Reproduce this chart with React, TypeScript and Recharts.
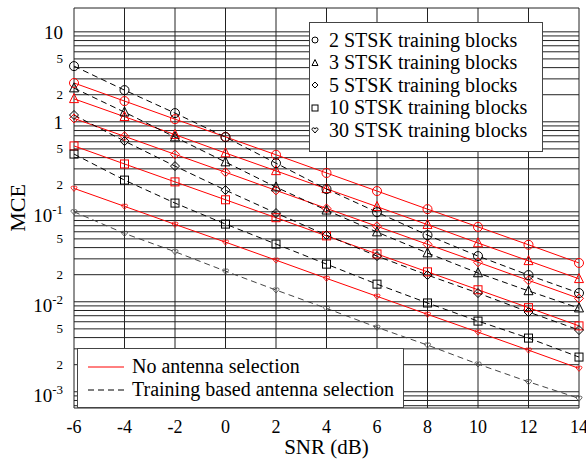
import { LineChart, Line, XAxis, YAxis, CartesianGrid } from 'recharts';

const FONT = '"Liberation Serif", "Times New Roman", serif';

// SNR in dB
const snr = [-6, -4, -2, 0, 2, 4, 6, 8, 10, 12, 14];

// No antenna selection (red, solid)
const noSel2 = [2.7, 1.7, 1.07, 0.68, 0.43, 0.27, 0.17, 0.107, 0.068, 0.043, 0.027];
const noSel3 = [1.8, 1.14, 0.72, 0.45, 0.285, 0.18, 0.114, 0.072, 0.045, 0.0285, 0.018];
const noSel5 = [1.09, 0.69, 0.435, 0.275, 0.173, 0.109, 0.069, 0.0435, 0.0275, 0.0173, 0.0109];
const noSel10 = [0.54, 0.34, 0.215, 0.136, 0.086, 0.054, 0.034, 0.0215, 0.0136, 0.0086, 0.0054];
const noSel30 = [0.182, 0.115, 0.0725, 0.046, 0.029, 0.0182, 0.0115, 0.00725, 0.0046, 0.0029, 0.00182];

// Training based antenna selection (black, dashed)
const train2 = [4.16, 2.25, 1.25, 0.676, 0.347, 0.179, 0.099, 0.055, 0.0322, 0.0198, 0.0125];
const train3 = [2.37, 1.28, 0.676, 0.357, 0.188, 0.104, 0.0595, 0.0348, 0.0209, 0.0132, 0.0085];
const train5 = [1.19, 0.61, 0.322, 0.174, 0.0968, 0.0551, 0.0322, 0.0198, 0.0125, 0.0077, 0.00485];
const train10 = [0.438, 0.225, 0.125, 0.073, 0.0438, 0.0262, 0.0157, 0.0097, 0.0061, 0.00395, 0.00243];
const train30 = [0.1, 0.0575, 0.036, 0.0219, 0.0135, 0.00845, 0.0052, 0.0033, 0.00203, 0.00129, 0.000845];

const blockLabels = [
  '2 STSK training blocks',
  '3 STSK training blocks',
  '5 STSK training blocks',
  '10 STSK training blocks',
  '30 STSK training blocks',
];
const lineLabels = ['No antenna selection', 'Training based antenna selection'];

const xTicks = [-6, -4, -2, 0, 2, 4, 6, 8, 10, 12, 14];
const yTicks = [0.001, 0.002, 0.005, 0.01, 0.02, 0.05, 0.1, 0.2, 0.5, 1, 2, 5, 10];
const yDomain: [number, number] = [0.00066, 18.4];

const gridY: number[] = [yDomain[0], yDomain[1]];
[0.0001, 0.001, 0.01, 0.1, 1, 10].forEach((d) => {
  for (let k = 1; k < 10; k++) {
    const v = k * d;
    if (v > yDomain[0] && v < yDomain[1]) gridY.push(v);
  }
});

const rows = snr.map((s, i) => ({
  snr: s,
  r2: noSel2[i], r3: noSel3[i], r5: noSel5[i], r10: noSel10[i], r30: noSel30[i],
  t2: train2[i], t3: train3[i], t5: train5[i], t10: train10[i], t30: train30[i],
}));

type Shape = 'circle' | 'triangle' | 'diamond' | 'square' | 'heart';
const shapes: Shape[] = ['circle', 'triangle', 'diamond', 'square', 'heart'];
const shapeSize = [9, 9, 9, 8, 6];

function Marker({ cx, cy, shape, color, size, sw = 1 }: { cx: number; cy: number; shape: Shape; color: string; size: number; sw?: number }) {
  const h = size / 2;
  const common = { fill: 'none', stroke: color, strokeWidth: sw };
  if (shape === 'circle') return <circle cx={cx} cy={cy} r={h} {...common} />;
  if (shape === 'square') return <rect x={cx - h} y={cy - h} width={size} height={size} {...common} />;
  if (shape === 'triangle')
    return <polygon points={`${cx},${cy - size * 0.58} ${cx - h},${cy + size * 0.42} ${cx + h},${cy + size * 0.42}`} {...common} />;
  if (shape === 'diamond')
    return <polygon points={`${cx},${cy - h} ${cx + h},${cy} ${cx},${cy + h} ${cx - h},${cy}`} {...common} />;
  const r = size / 4;
  return (
    <path
      d={`M${cx},${cy + h} L${cx - h},${cy - r * 0.3} A${r},${r} 0 0 1 ${cx},${cy - r * 0.6} A${r},${r} 0 0 1 ${cx + h},${cy - r * 0.3} Z`}
      {...common}
    />
  );
}

const series = [
  ...['r2', 'r3', 'r5', 'r10', 'r30'].map((k, i) => ({ key: k, color: '#ff0000', dash: undefined as string | undefined, shape: shapes[i], size: shapeSize[i] })),
  ...['t2', 't3', 't5', 't10', 't30'].map((k, i) => ({ key: k, color: i === 4 ? '#444' : '#000', dash: '6 4', shape: shapes[i], size: shapeSize[i] })),
];

function XTick({ x, y, payload }: any) {
  return (
    <text x={x} y={y + 25} textAnchor="middle" fontFamily={FONT} fontSize={18} fill="#000">
      {payload.value}
    </text>
  );
}

function YTick({ x, y, payload }: any) {
  const v = payload.value as number;
  const e = Math.round(Math.log10(v));
  const isPow = Math.abs(Math.log10(v) - e) < 1e-6;
  if (!isPow) {
    const lead = Math.round(v / Math.pow(10, Math.floor(Math.log10(v))));
    return (
      <text x={x - 11} y={y} dy={4.5} textAnchor="end" fontFamily={FONT} fontSize={13} fill="#000">
        {lead}
      </text>
    );
  }
  if (e >= 0) {
    return (
      <text x={x - 11} y={y} dy={7} textAnchor="end" fontFamily={FONT} fontSize={19} fill="#000">
        {v}
      </text>
    );
  }
  return (
    <text x={x - 11} y={y} dy={10} textAnchor="end" fontFamily={FONT} fontSize={19} fill="#000">
      <tspan>10</tspan>
      <tspan fontSize={13} dy={-8}>{e}</tspan>
    </text>
  );
}

export default function App() {
  return (
    <div style={{ position: 'absolute', left: 0, top: 0, width: 586, height: 462, background: '#fff' }}>
      <LineChart width={586} height={462} data={rows} margin={{ top: 8, right: 7, bottom: 0, left: 0 }}>
        <CartesianGrid stroke="#222" strokeWidth={1} horizontalValues={gridY} verticalValues={xTicks} fill="none" />
        <XAxis
          dataKey="snr"
          type="number"
          domain={[-6, 14]}
          ticks={xTicks}
          interval={0}
          height={54}
          tickSize={0}
          tickMargin={0}
          axisLine={false}
          tickLine={false}
          tick={<XTick />}
          label={({ viewBox }: any) => (
            <text x={viewBox.x + viewBox.width / 2} y={viewBox.y + 46} textAnchor="middle" fontFamily={FONT} fontSize={21} fill="#000">
              SNR (dB)
            </text>
          )}
        />
        <YAxis
          type="number"
          scale="log"
          domain={yDomain}
          allowDataOverflow
          ticks={yTicks}
          interval={0}
          width={74}
          tickSize={0}
          tickMargin={0}
          axisLine={false}
          tickLine={false}
          tick={<YTick />}
          label={({ viewBox }: any) => {
            const cy = viewBox.y + viewBox.height / 2;
            return (
              <text x={25} y={cy} transform={`rotate(-90, 25, ${cy})`} textAnchor="middle" fontFamily={FONT} fontSize={22} fill="#000">
                MCE
              </text>
            );
          }}
        />
        {series.map((s) => (
          <Line
            key={s.key}
            dataKey={s.key}
            type="linear"
            stroke={s.color}
            strokeWidth={1}
            strokeDasharray={s.dash}
            isAnimationActive={false}
            dot={(p: any) => (
              <Marker key={`${s.key}-${p.index}`} cx={p.cx} cy={p.cy} shape={s.shape} color={s.color} size={s.size} sw={s.shape === 'heart' ? 0.8 : 1} />
            )}
            activeDot={false}
          />
        ))}
      </LineChart>

      <div
        style={{
          position: 'absolute', left: 309, top: 22, width: 232, height: 128,
          background: '#fff', border: '1.5px solid #444', fontFamily: FONT, fontSize: 20, color: '#000',
        }}
      >
        {blockLabels.map((lab, i) => (
          <div key={lab} style={{ position: 'absolute', left: 0, top: 6 + i * 22.5, height: 22.5, display: 'flex', alignItems: 'center', whiteSpace: 'nowrap' }}>
            <svg width={18} height={22} style={{ display: 'block' }}>
              <Marker cx={5} cy={11} shape={shapes[i]} color="#000" size={6} sw={1} />
            </svg>
            <span style={{ marginLeft: 1 }}>{lab}</span>
          </div>
        ))}
      </div>

      <div
        style={{
          position: 'absolute', left: 77, top: 348, width: 325, height: 58,
          background: '#fff', border: '1.5px solid #444', fontFamily: FONT, fontSize: 20, color: '#000',
        }}
      >
        {lineLabels.map((lab, i) => (
          <div key={lab} style={{ position: 'absolute', left: 0, top: 6 + i * 23, height: 23, display: 'flex', alignItems: 'center', whiteSpace: 'nowrap' }}>
            <svg width={54} height={22} style={{ display: 'block' }}>
              <line x1={10} y1={11} x2={46} y2={11} stroke={i === 0 ? '#ff0000' : '#000'} strokeWidth={1} strokeDasharray={i === 0 ? undefined : '6 4'} />
            </svg>
            <span>{lab}</span>
          </div>
        ))}
      </div>
    </div>
  );
}
